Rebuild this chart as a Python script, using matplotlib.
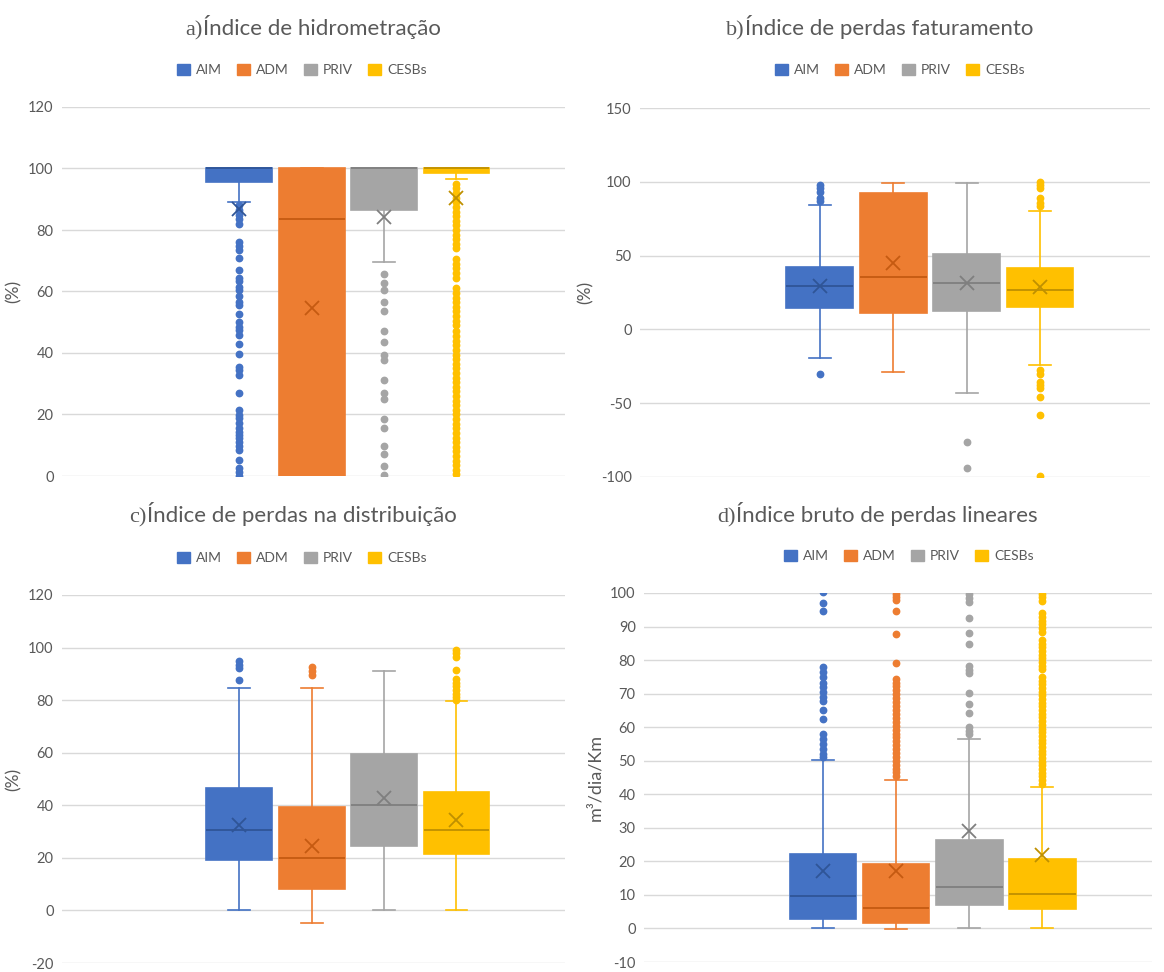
import matplotlib
matplotlib.use("Agg")
import matplotlib.pyplot as plt
from matplotlib.patches import Patch

plt.rcParams['font.family'] = ['Lato', 'DejaVu Sans']
plt.rcParams['axes.unicode_minus'] = False

groups = ['AIM', 'ADM', 'PRIV', 'CESBs']
colors = ['#4472C4', '#ED7D31', '#A5A5A5', '#FFC000']
dark = ['#2F5597', '#C55A11', '#7F7F7F', '#BF9000']

# a) Índice de hidrometração  -> (q1, median, q3, whislo, whishi, mean)
a_stats = [(95.5, 100, 100, 89.2, 100, 86.8),
           (0, 83.5, 100, 0, 100, 54.6),
           (86.4, 100, 100, 69.6, 100, 84.2),
           (98.4, 100, 100, 96.5, 100, 90.4)]
a_fliers = [
    [88, 86.5, 85, 83.5, 82, 76, 74.7, 73.6, 70.9, 67, 64.4, 63.3, 61.6, 60.5, 58.4,
     56.7, 55.7, 52.6, 50.2, 48.6, 47.5, 45.9, 42.9, 39.7, 35.6, 34.5, 32.9, 26.9,
     21.5, 19.9, 18.8, 17.1, 15.5, 14.4, 13.3, 12.3, 11.2, 9.8, 8.5, 5.2, 2.5, 1.4, 0],
    [],
    [65.6, 62.9, 60.5, 56.7, 53.8, 47.0, 43.5, 39.4, 37.8, 31.3, 26.9, 25.0, 18.5,
     15.5, 9.8, 7.1, 3.3, 0.3],
    [95, 93.5, 92, 90.5, 89, 87.5, 86, 84.5, 83, 81.5, 80, 78.5, 77, 75.5, 74,
     70.5, 69, 67.5, 66, 64.5, 61, 59.5, 58, 56.5, 55, 53.5, 52, 50.5, 49, 47,
     45.5, 44, 42.5, 41, 39.5, 38, 36.5, 35, 33.5, 32, 30.5, 29, 27.5, 26, 24.5,
     23, 21.5, 20, 18.5, 17, 15.5, 14, 12.5, 11, 9.5, 8, 6.5, 5, 3.5, 2, 0.5]]

# b) Índice de perdas faturamento
b_stats = [(14.3, 29.6, 42.1, -19.2, 84.4, 29.6),
           (10.9, 35.7, 92.3, -29.2, 99.5, 45.2),
           (12.7, 31.2, 50.9, -43.4, 99.5, 31.2),
           (14.9, 26.7, 41.9, -23.8, 79.9, 29.0)]
b_fliers = [[98, 95.7, 93.4, 88.9, 86.7, -29.9],
            [],
            [-76.2, -93.9],
            [100, 98, 95.7, 88.9, 85.5, 83.3, -27.6, -29.9, -35.5, -37.8, -40,
             -45.7, -58.1, -99.5]]

# c) Índice de perdas na distribuição
c_stats = [(19.0, 30.7, 46.5, 0, 84.8, 32.6),
           (8.3, 20.0, 39.5, -4.8, 84.8, 24.6),
           (24.6, 40.2, 59.6, 0, 91.1, 42.7),
           (21.6, 30.7, 45.0, 0, 79.5, 34.5)]
c_fliers = [[95, 93.4, 92.1, 87.7],
            [92.5, 90.9, 89.6],
            [],
            [99.1, 97.8, 96.6, 91.5, 88, 86.4, 85.2, 83.9, 82.4, 81.1, 80.1]]

# d) Índice bruto de perdas lineares
d_stats = [(2.9, 9.6, 22.3, 0, 50.3, 17.0),
           (1.7, 6.2, 19.1, -0.1, 44.3, 17.0),
           (6.9, 12.3, 26.5, 0, 56.6, 29.2),
           (5.7, 10.3, 20.6, 0, 42.1, 22.0)]
d_fliers = [
    [100.3, 97, 94.6, 77.9, 76.4, 74.9, 73.2, 72, 70.5, 69, 67.8, 65, 62.5, 58,
     56.6, 55, 53.6, 52.1, 51],
    [99.8, 98.8, 97.8, 94.6, 87.7, 79.1, 74.5, 73.3, 72.2, 71, 69.8, 68.6, 67.5,
     66.3, 65.1, 64, 62.8, 61.6, 60.5, 59.3, 58.1, 57, 55.8, 54.6, 53.5, 52.3,
     51.1, 50, 48.8, 47.6, 46.5, 45.3],
    [99.6, 98.4, 97.3, 92.6, 88.1, 84.9, 78.1, 77, 76.1, 70.2, 67, 64.3, 60.2, 59, 58],
    [99.8, 98.8, 97.6, 94, 92.9, 91.8, 90.7, 89.6, 88.5, 86, 84.9, 83.8, 82.7,
     81.6, 80.5, 79.4, 78.3, 77.2, 75, 73.9, 72.8, 71.7, 70.6, 69.5, 68.4, 67.3,
     66.2, 65.1, 64, 62.9, 61.8, 60.7, 59.6, 58.5, 57.4, 56.3, 55.2, 54.1, 53,
     51.9, 50.8, 49.7, 48.6, 47.5, 46.4, 45.3, 44.2, 43.1]]

W, H = 1164, 972
panels = [
    dict(stats=a_stats, fliers=a_fliers, box=(62, 565, 107, 476), ylim=(0, 120), step=20,
         ylabel='(%)', tag='a)', title='Índice de hidrometração', split=203,
         leg=(302, 70), title_y=28),
    dict(stats=b_stats, fliers=b_fliers, box=(640, 1150, 108, 477), ylim=(-100, 150), step=50,
         ylabel='(%)', tag='b)', title='Índice de perdas faturamento', split=745,
         leg=(900, 70), title_y=28),
    dict(stats=c_stats, fliers=c_fliers, box=(62, 565, 595, 963), ylim=(-20, 120), step=20,
         ylabel='(%)', tag='c)', title='Índice de perdas na distribuição', split=147,
         leg=(302, 558), title_y=515),
    dict(stats=d_stats, fliers=d_fliers, box=(644, 1152, 593, 962), ylim=(-10, 100), step=10,
         ylabel='m³/dia/Km', tag='d)', title='Índice bruto de perdas lineares', split=736,
         leg=(909, 556), title_y=515),
]

fig = plt.figure(figsize=(W / 100, H / 100), dpi=100)
txt = '#595959'

for p in panels:
    l, r, t, b = p['box']
    ax = fig.add_axes([l / W, 1 - b / H, (r - l) / W, (b - t) / H])
    for i, (st, fl) in enumerate(zip(p['stats'], p['fliers'])):
        q1, med, q3, lo, hi, mean = st
        s = dict(q1=q1, med=med, q3=q3, whislo=lo, whishi=hi, mean=mean, fliers=fl)
        ax.bxp([s], positions=[i], widths=0.91, patch_artist=True, showmeans=True,
               boxprops=dict(facecolor=colors[i], edgecolor=colors[i], linewidth=1.2),
               medianprops=dict(color=dark[i], linewidth=1.3),
               whiskerprops=dict(color=colors[i], linewidth=1.2),
               capprops=dict(color=colors[i], linewidth=1.2),
               capwidths=0.3,
               meanprops=dict(marker='x', markeredgecolor=dark[i], markersize=10,
                              markeredgewidth=1.3),
               flierprops=dict(marker='o', markerfacecolor=colors[i],
                               markeredgecolor=colors[i], markersize=4.6))
    y0, y1 = p['ylim']
    ax.set_ylim(y0, y1)
    ax.set_xlim(-2.45, 4.5)
    ax.set_yticks(range(y0, y1 + 1, p['step']))
    ax.set_xticks([])
    ax.grid(axis='y', color='#D9D9D9', linewidth=1)
    ax.set_axisbelow(True)
    for sp in ax.spines.values():
        sp.set_visible(False)
    ax.tick_params(axis='y', length=0, labelsize=10.5, labelcolor=txt, pad=6)
    ax.set_ylabel(p['ylabel'], fontsize=13 if p['tag'] == 'd)' else 12.5,
                  color=txt, labelpad=5)

    # title: serif tag + sans text, sharing a baseline
    ty = 1 - (p['title_y'] + 7) / H
    fig.text(p['split'] / W, ty, p['tag'], ha='right', va='baseline', fontsize=16,
             color=txt, family=['Liberation Serif', 'DejaVu Serif'])
    fig.text(p['split'] / W, ty, p['title'], ha='left', va='baseline', fontsize=16,
             color=txt)

    handles = [Patch(facecolor=c, edgecolor=c, label=g) for c, g in zip(colors, groups)]
    lx, ly = p['leg']
    ax.legend(handles=handles, loc='center', ncol=4, frameon=False, fontsize=10,
              labelcolor=txt, handlelength=0.9, handleheight=0.9, handletextpad=0.45,
              columnspacing=1.1,
              bbox_to_anchor=((lx - l) / (r - l), 1 + (t - ly) / (b - t)))

fig.savefig('out.png', dpi=100, facecolor='white')
